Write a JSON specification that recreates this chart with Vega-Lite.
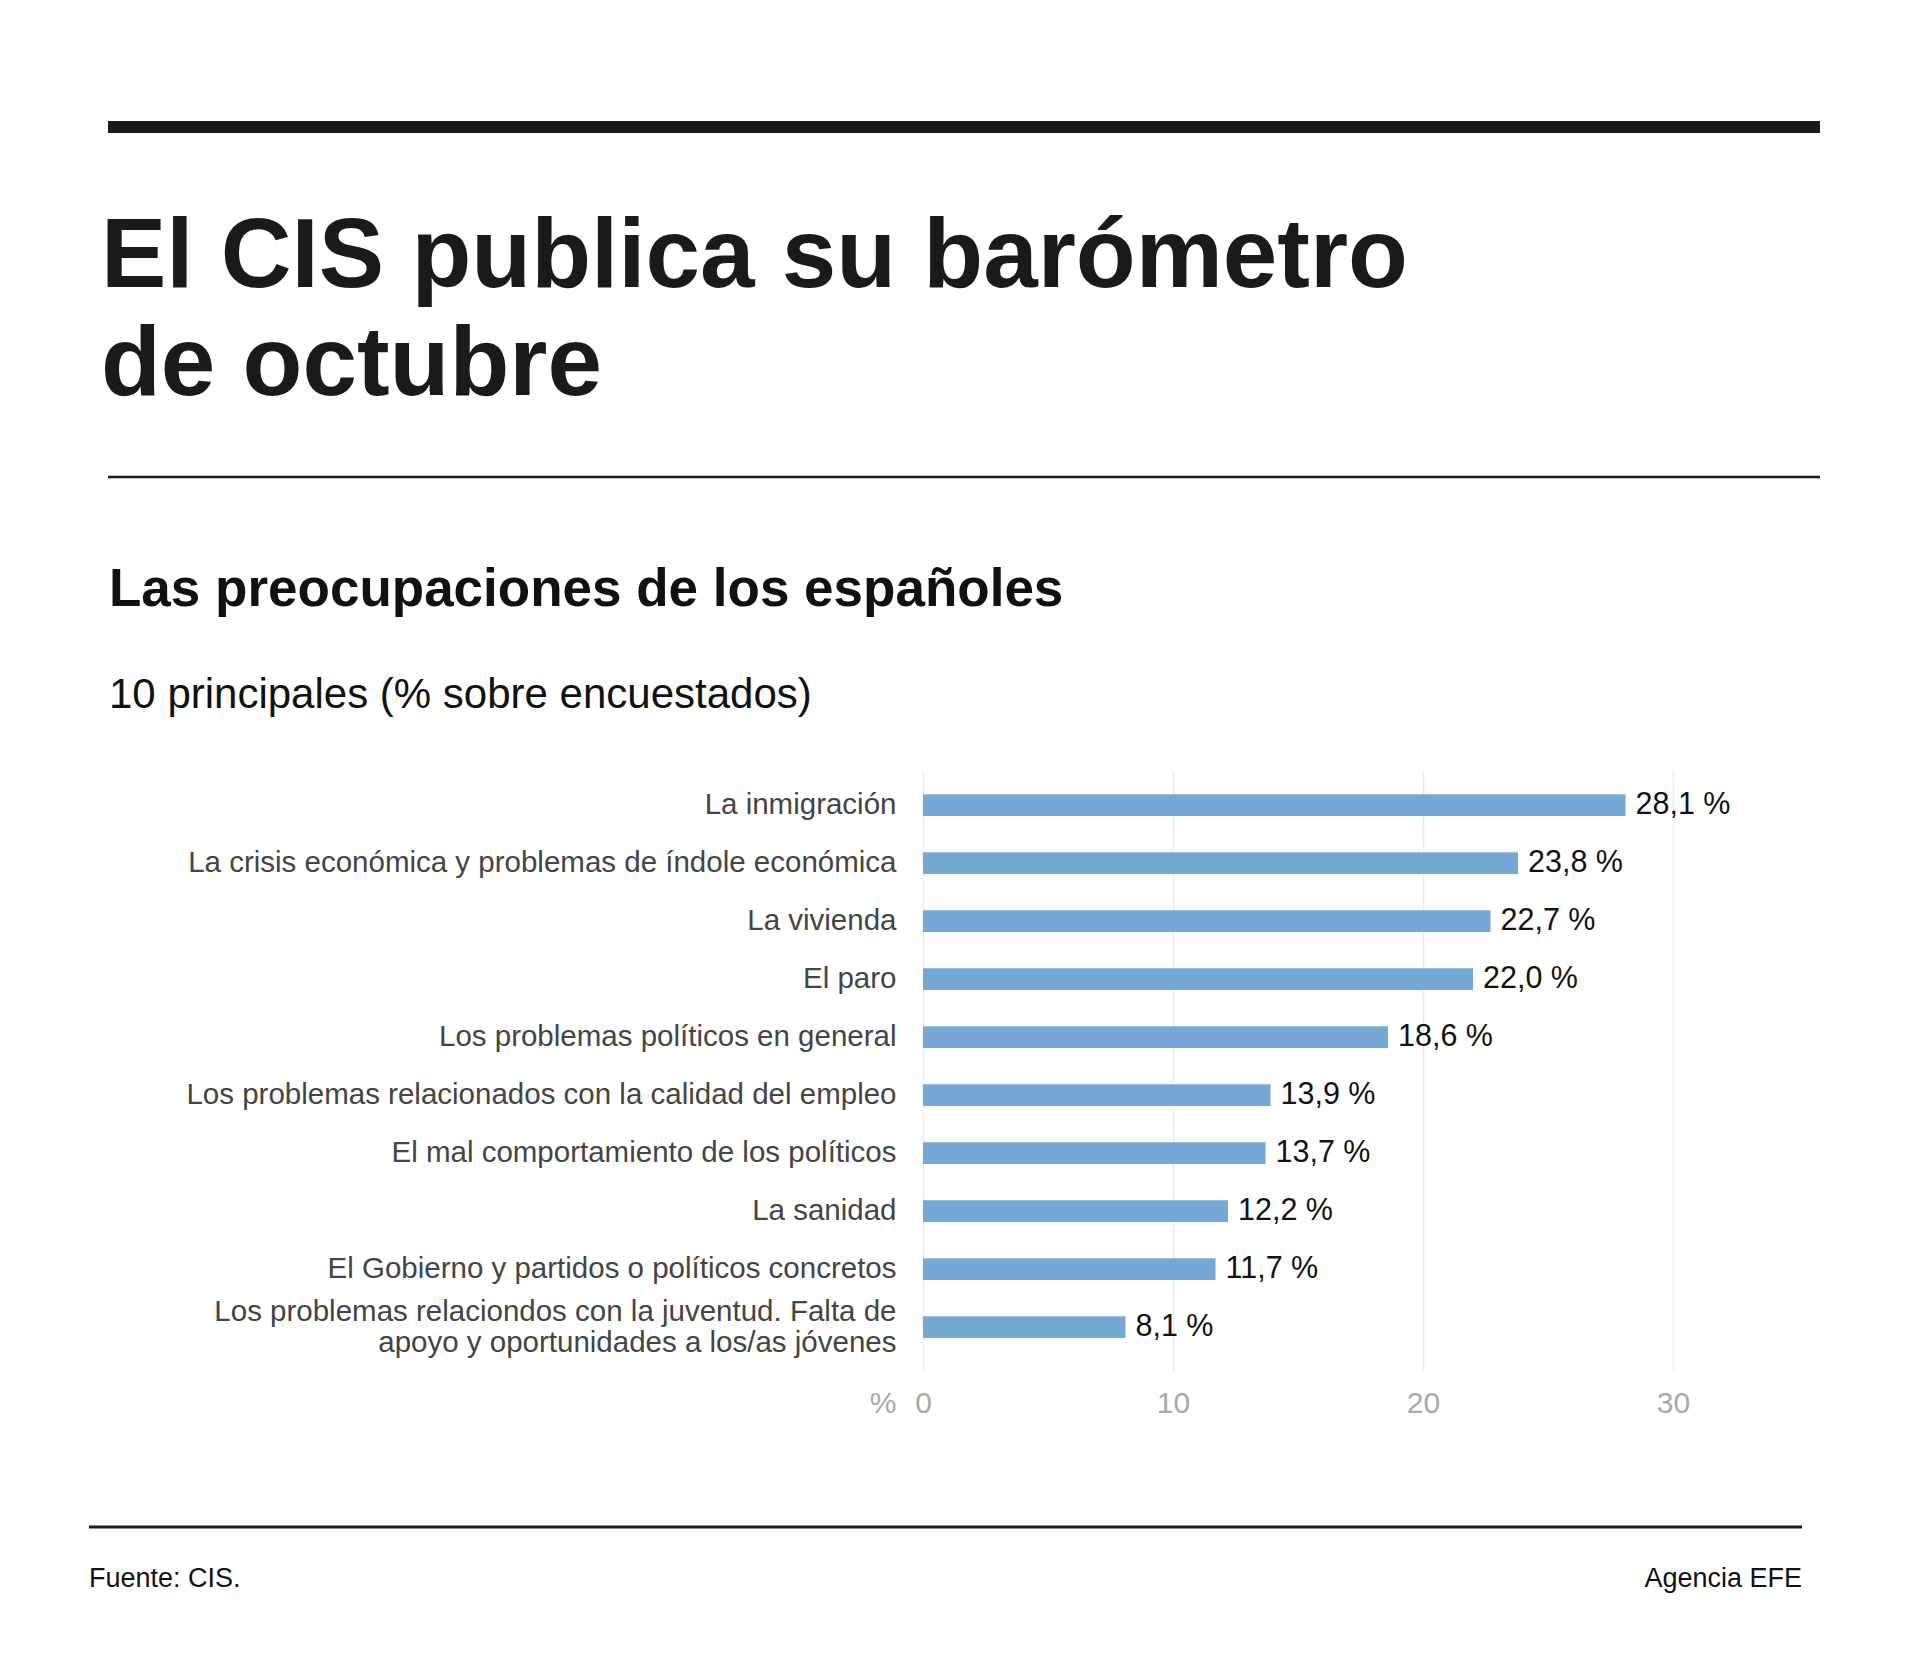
{
  "$schema": "https://vega.github.io/schema/vega-lite/v6.json",
  "width": 875,
  "height": 600,
  "autosize": {"type": "none"},
  "padding": {"left": 923, "top": 770, "right": 122, "bottom": 290},
  "background": "white",
  "config": {
    "view": {"stroke": null},
    "locale": {"number": {"decimal": ",", "thousands": ".", "grouping": [3], "currency": ["", " %"]}}
  },
  "layer": [
    {
      "data": {"name": "temas", "values": [
        {"tema": "La inmigración", "pct": 28.1},
        {"tema": "La crisis económica y problemas de índole económica", "pct": 23.8},
        {"tema": "La vivienda", "pct": 22.7},
        {"tema": "El paro", "pct": 22.0},
        {"tema": "Los problemas políticos en general", "pct": 18.6},
        {"tema": "Los problemas relacionados con la calidad del empleo", "pct": 13.9},
        {"tema": "El mal comportamiento de los políticos", "pct": 13.7},
        {"tema": "La sanidad", "pct": 12.2},
        {"tema": "El Gobierno y partidos o políticos concretos", "pct": 11.7},
        {"tema": "Los problemas relaciondos con la juventud. Falta de\napoyo y oportunidades a los/as jóvenes", "pct": 8.1}
      ]},
      "layer": [
        {
          "mark": {"type": "bar", "color": "#76a8d6"},
          "encoding": {
            "y": {
              "field": "tema", "type": "nominal", "sort": null,
              "scale": {"paddingInner": 0.626, "paddingOuter": 0.4855, "align": 0.43},
              "axis": {
                "title": null, "domain": false, "ticks": false, "tickSize": 0, "grid": false,
                "labelFont": "Liberation Sans", "labelFontSize": 29.5, "labelColor": "#444444",
                "labelPadding": 27, "labelLimit": 1000, "labelLineHeight": 31,
                "labelOffset": {"condition": {"test": "length(split(datum.value, '\\n')) > 1", "value": -15}, "value": 0},
                "labelExpr": "split(datum.label, '\\n')"
              }
            },
            "x": {
              "field": "pct", "type": "quantitative",
              "scale": {"domain": [0, 35], "nice": false, "zero": true},
              "axis": {
                "values": [0, 10, 20, 30], "format": "d",
                "domain": false, "ticks": false, "tickSize": 0,
                "grid": true, "gridColor": "#ececec", "gridWidth": 1.5,
                "labelFont": "Liberation Sans", "labelFontSize": 30, "labelColor": "#a8a8a8",
                "labelBaseline": "alphabetic", "labelPadding": 42, "labelFlush": false,
                "title": "%", "titleX": -27, "titleY": 42, "titleAlign": "right", "titleBaseline": "alphabetic",
                "titleFont": "Liberation Sans", "titleFontSize": 30, "titleFontWeight": "normal", "titleColor": "#a8a8a8"
              }
            }
          }
        },
        {
          "mark": {"type": "text", "align": "left", "baseline": "middle", "dx": 10, "font": "Liberation Sans", "fontSize": 30.5, "color": "#111111"},
          "encoding": {
            "y": {"field": "tema", "type": "nominal", "sort": null},
            "x": {"field": "pct", "type": "quantitative"},
            "text": {"field": "pct", "type": "quantitative", "format": "$.1f"}
          }
        }
      ]
    },
    {
      "data": {"values": [{}]},
      "layer": [
        {"mark": {"type": "rule", "strokeWidth": 12, "color": "#1a1a1a"},
         "encoding": {"x": {"value": -815}, "x2": {"value": 897}, "y": {"value": -643}}},
        {"mark": {"type": "rule", "strokeWidth": 2.5, "color": "#1a1a1a"},
         "encoding": {"x": {"value": -815}, "x2": {"value": 897}, "y": {"value": -293}}},
        {"mark": {"type": "rule", "strokeWidth": 3, "color": "#1a1a1a"},
         "encoding": {"x": {"value": -834}, "x2": {"value": 879}, "y": {"value": 757}}},
        {"mark": {"type": "text", "align": "left", "baseline": "alphabetic", "font": "Liberation Sans", "fontWeight": "bold", "fontSize": 98, "lineHeight": 108, "color": "#1a1a1a",
                  "text": ["El CIS publica su barómetro", "de octubre"]},
         "encoding": {"x": {"value": -822}, "y": {"value": -483}}},
        {"mark": {"type": "text", "align": "left", "baseline": "alphabetic", "font": "Liberation Sans", "fontWeight": "bold", "fontSize": 53, "color": "#111111",
                  "text": "Las preocupaciones de los españoles"},
         "encoding": {"x": {"value": -814}, "y": {"value": -164}}},
        {"mark": {"type": "text", "align": "left", "baseline": "alphabetic", "font": "Liberation Sans", "fontSize": 42, "color": "#111111",
                  "text": "10 principales (% sobre encuestados)"},
         "encoding": {"x": {"value": -814}, "y": {"value": -62}}},
        {"mark": {"type": "text", "align": "left", "baseline": "alphabetic", "font": "Liberation Sans", "fontSize": 27, "color": "#111111",
                  "text": "Fuente: CIS."},
         "encoding": {"x": {"value": -834}, "y": {"value": 817}}},
        {"mark": {"type": "text", "align": "right", "baseline": "alphabetic", "font": "Liberation Sans", "fontSize": 27, "color": "#111111",
                  "text": "Agencia EFE"},
         "encoding": {"x": {"value": 879}, "y": {"value": 817}}}
      ]
    }
  ]
}
